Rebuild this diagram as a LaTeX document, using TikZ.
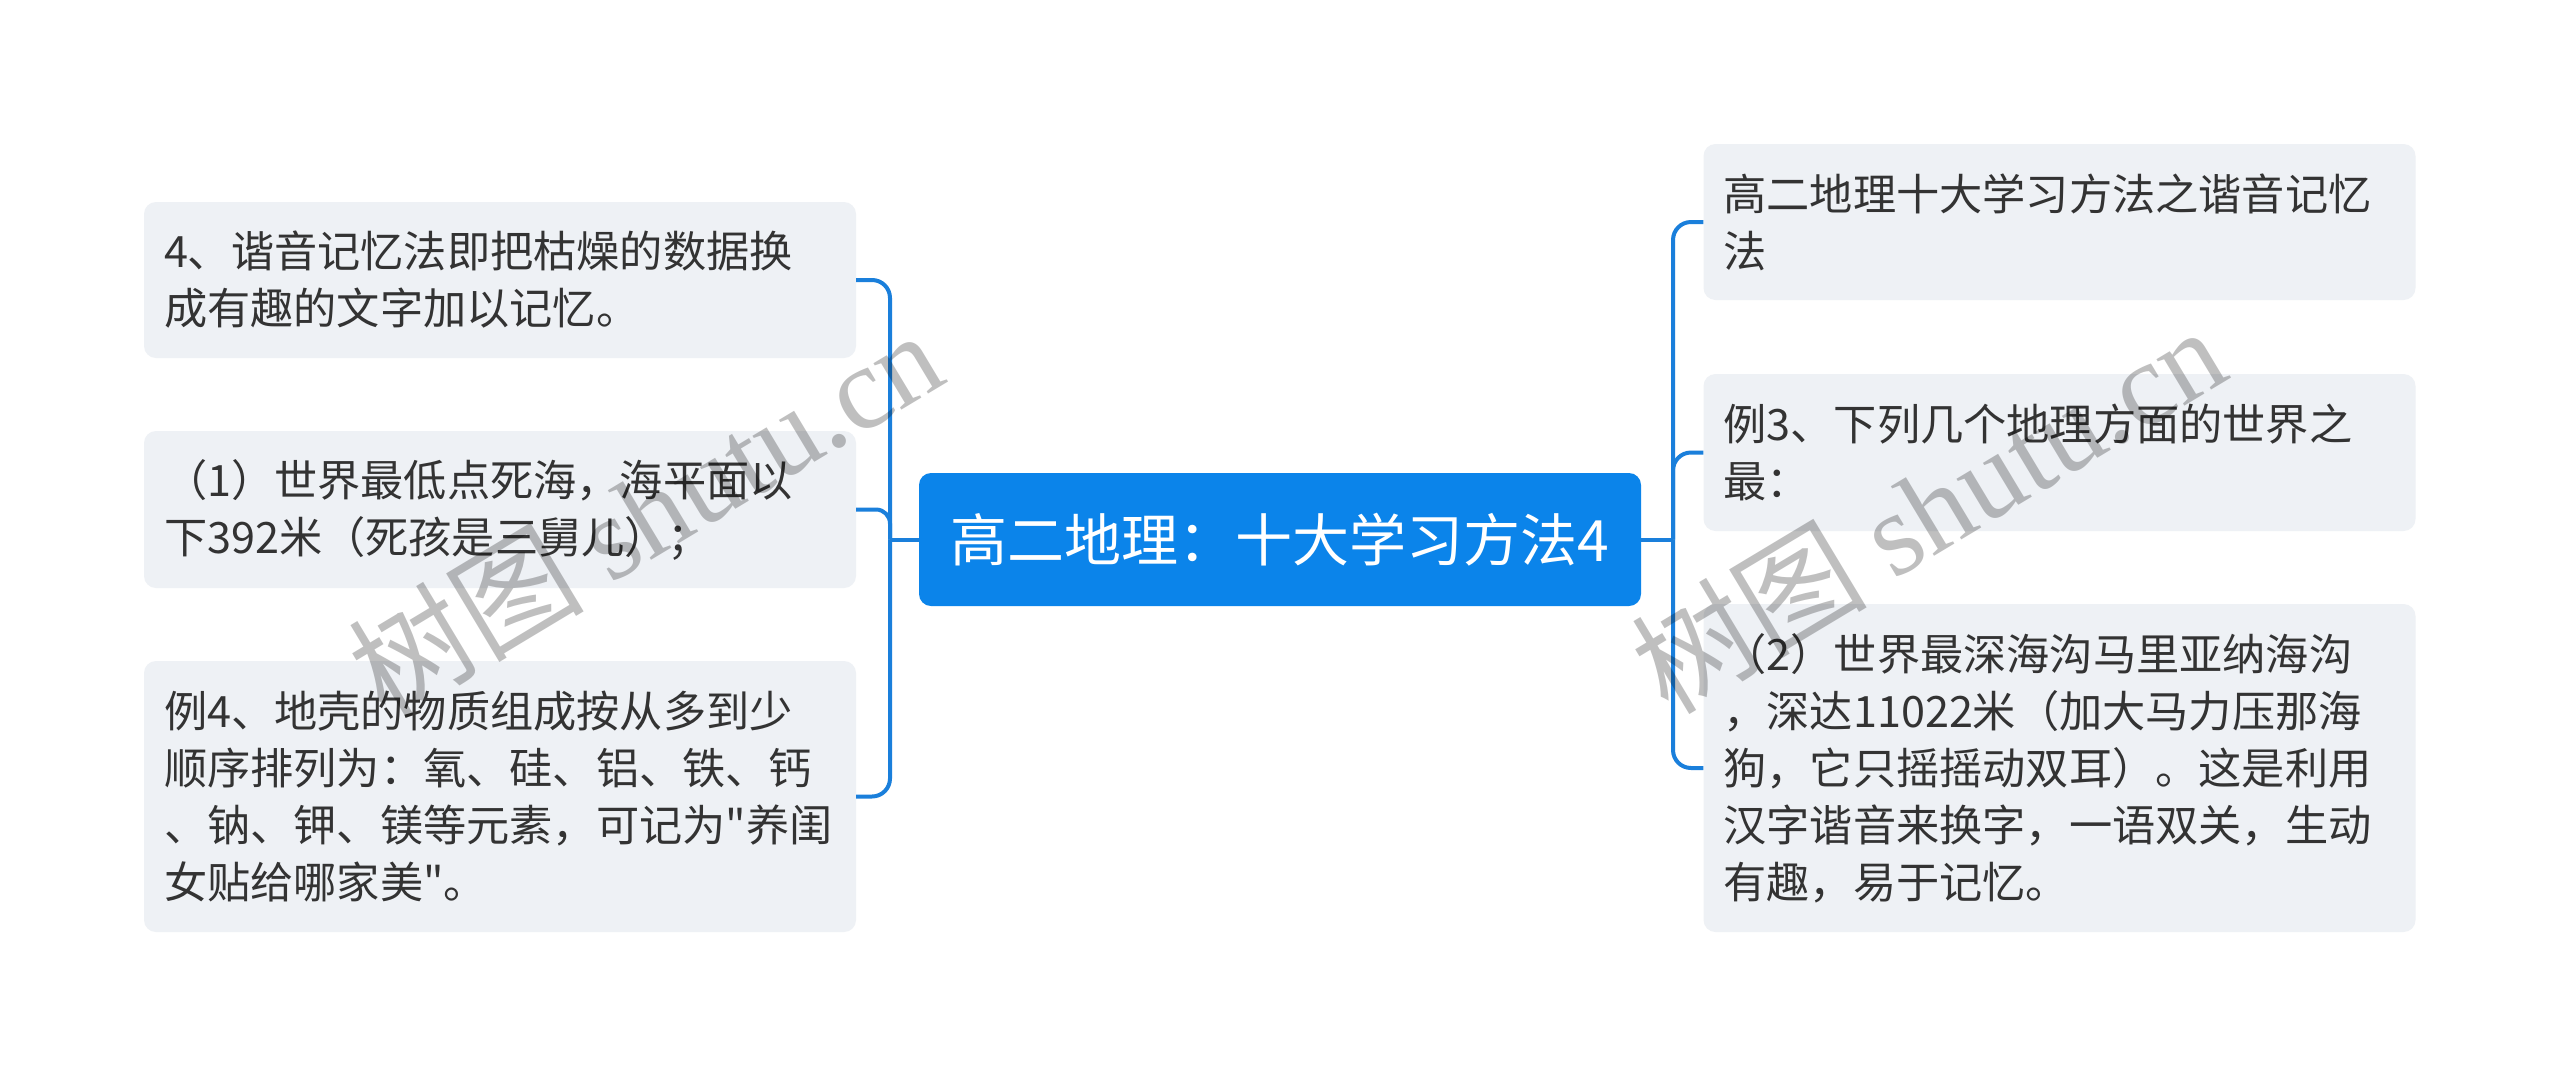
\documentclass[tikz,border=0pt]{standalone}
\usepackage{fontspec}
\setmainfont{Noto Sans CJK SC}
\newfontfamily\cjk{Noto Sans CJK SC}
\newfontfamily\wmlatin{Liberation Serif}
\definecolor{rootblue}{HTML}{0B84EA}
\definecolor{linkblue}{HTML}{1A7FDB}
\definecolor{boxgray}{HTML}{EEF1F5}
\definecolor{txtgray}{HTML}{333333}
\begin{document}
\begin{tikzpicture}[x=1pt,y=-1pt,
  leaf/.style={rectangle, rounded corners=12pt, fill=boxgray, text=txtgray,
    font=\cjk\fontsize{43.2}{57}\selectfont, align=left, text width=672pt,
    inner xsep=20pt, inner ysep=0pt, anchor=center},
  rootbox/.style={rectangle, rounded corners=12pt, fill=rootblue, text=white,
    font=\cjk\fontsize{57}{68}\selectfont, minimum width=722pt, minimum height=133pt,
    inner sep=0pt, anchor=center},
  link/.style={draw=linkblue, line width=4pt},
  wm/.style={text=black, text opacity=0.25, font=\fontsize{118}{118}\selectfont, inner sep=0pt}
]
\useasboundingbox (0,0) rectangle (2560,1077);
\fill[white] (0,0) rectangle (2560,1077);

\node[rootbox] (root) at (1280,539.5) {高二地理：十大学习方法4};

\node[leaf, minimum height=156pt] (L1) at (500,280) {4、谐音记忆法即把枯燥的数据换\\成有趣的文字加以记忆。};
\node[leaf, minimum height=157pt] (L2) at (500,509.5) {（1）世界最低点死海，海平面以\\下392米（死孩是三舅儿）；};
\node[leaf, minimum height=271pt] (L3) at (500,796.5) {例4、地壳的物质组成按从多到少\\顺序排列为：氧、硅、铝、铁、钙\\、钠、钾、镁等元素，可记为"养闺\\女贴给哪家美"。};

\node[leaf, minimum height=156pt] (R1) at (2059.5,222) {高二地理十大学习方法之谐音记忆\\法};
\node[leaf, minimum height=157pt] (R2) at (2059.5,452.5) {例3、下列几个地理方面的世界之\\最：};
\node[leaf, minimum height=328pt] (R3) at (2059.5,768) {（2）世界最深海沟马里亚纳海沟\\，深达11022米（加大马力压那海\\狗，它只摇摇动双耳）。这是利用\\汉字谐音来换字，一语双关，生动\\有趣，易于记忆。};

\coordinate (lj) at (890,539.5);
\coordinate (rj) at (1673,539.5);

\draw[link] (root.west) -- (lj);
\draw[link, rounded corners=18pt] (lj) |- (L1.east);
\draw[link, rounded corners=14pt] (lj) |- (L2.east);
\draw[link, rounded corners=18pt] (lj) |- (L3.east);

\draw[link] (root.east) -- (rj);
\draw[link, rounded corners=18pt] (rj) |- (R1.west);
\draw[link, rounded corners=18pt] (rj) |- (R2.west);
\draw[link, rounded corners=18pt] (rj) |- (R3.west);

\node[wm, rotate=31] (wm1) at (645,512) {{\cjk 树图} {\wmlatin shutu.cn}};
\node[wm, rotate=31] (wm2) at (1928,508) {{\cjk 树图} {\wmlatin shutu.cn}};
\end{tikzpicture}
\end{document}
